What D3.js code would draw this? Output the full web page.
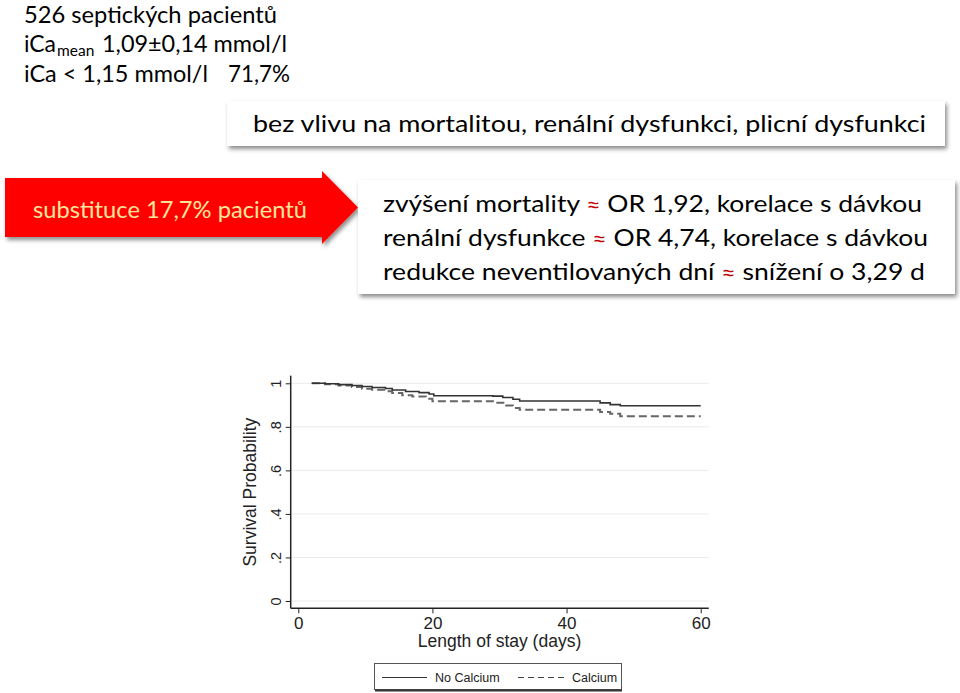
<!DOCTYPE html>
<html>
<head>
<meta charset="utf-8">
<script src="https://cdn.jsdelivr.net/npm/d3@7"></script>
<style>
  body { margin: 0; background: #fff; }
  svg { display: block; }
</style>
</head>
<body>
<div id="canvas"></div>
<script>
// Kaplan-Meier curves
var noCalciumDays = [2, 4, 6, 8, 9.5, 11, 13, 14, 16, 18, 19.5, 20.2, 29, 30.5, 32, 33, 45, 46.5, 48, 60];
var noCalciumSurv = [1, 0.998, 0.994, 0.99, 0.985, 0.981, 0.976, 0.969, 0.962, 0.957, 0.951, 0.943, 0.941, 0.935, 0.927, 0.919, 0.91, 0.902, 0.897, 0.897];
var calciumDays = [2, 4, 6, 8, 9.5, 11, 13, 14, 15.5, 17, 19, 20, 29.5, 31, 32, 33, 45, 46.5, 48, 60];
var calciumSurv = [1, 0.996, 0.99, 0.983, 0.975, 0.97, 0.963, 0.955, 0.945, 0.939, 0.929, 0.918, 0.911, 0.898, 0.886, 0.878, 0.868, 0.86, 0.849, 0.849];

var xTicks = [0, 20, 40, 60];
var yTicks = [0, 0.2, 0.4, 0.6, 0.8, 1];
var yTickLabels = ["0", ".2", ".4", ".6", ".8", "1"];
var legendLabels = ["No Calcium", "Calcium"];

var infoLines = ["526 septických pacientů", "iCa < 1,15 mmol/l", "71,7%"];
var noEffectText = "bez vlivu na mortalitou, renální dysfunkci, plicní dysfunkci";
var arrowText = "substituce 17,7% pacientů";
var effectLines = [
  ["zvýšení mortality ", "OR 1,92, korelace s dávkou"],
  ["renální dysfunkce ", "OR 4,74, korelace s dávkou"],
  ["redukce neventilovaných dní ", "snížení o 3,29 d"]
];

var slideFont = "Lato, 'Open Sans', sans-serif";
var chartFont = "'Liberation Sans', Arial, sans-serif";
var slideSize = 23.5;

var svg = d3.select('#canvas').append("svg").attr("width", 960).attr("height", 693);
svg.append("rect").attr("width", 960).attr("height", 693).attr("fill", "#fff");

var defs = svg.append("defs");
var shadow = defs.append("filter").attr("id", "shadow")
  .attr("x", "-5%").attr("y", "-20%").attr("width", "115%").attr("height", "150%");
shadow.append("feDropShadow").attr("dx", 2).attr("dy", 3).attr("stdDeviation", 2)
  .attr("flood-color", "#000").attr("flood-opacity", 0.45);

// ---- top-left summary
function fitText(sel, width) {
  return sel.attr("textLength", width).attr("lengthAdjust", "spacingAndGlyphs");
}
fitText(svg.append("text").attr("x", 24).attr("y", 22.5).attr("font-family", slideFont)
  .attr("font-size", 22.5).attr("fill", "#000").text(infoLines[0]), 253);

fitText(svg.append("text").attr("x", 24).attr("y", 52).attr("font-family", slideFont)
  .attr("font-size", slideSize).text("iCa"), 32);
svg.append("text").attr("x", 57).attr("y", 56).attr("font-family", slideFont)
  .attr("font-size", 15.5).text("mean");
fitText(svg.append("text").attr("x", 102).attr("y", 52).attr("font-family", slideFont)
  .attr("font-size", slideSize).text("1,09±0,14 mmol/l"), 185);

fitText(svg.append("text").attr("x", 24).attr("y", 82).attr("font-family", slideFont)
  .attr("font-size", slideSize).text(infoLines[1]), 184);
fitText(svg.append("text").attr("x", 228).attr("y", 82).attr("font-family", slideFont)
  .attr("font-size", slideSize).text(infoLines[2]), 62);

// ---- "no effect" box
svg.append("rect").attr("x", 227).attr("y", 101).attr("width", 718).attr("height", 45)
  .attr("fill", "#fff").attr("filter", "url(#shadow)");
fitText(svg.append("text").attr("x", 253).attr("y", 132).attr("font-family", slideFont)
  .attr("font-size", slideSize).text(noEffectText), 673);

// ---- red arrow
var arrowPts = [[5, 178], [322, 178], [322, 171], [358, 207.5], [322, 244], [322, 237], [5, 237]];
svg.append("path").attr("d", d3.line()(arrowPts) + "Z")
  .attr("fill", "#ff0000").attr("filter", "url(#shadow)");
fitText(svg.append("text").attr("x", 33).attr("y", 218).attr("font-family", slideFont)
  .attr("font-size", 22.5).attr("fill", "#ffe699").text(arrowText), 274);

// ---- effects box
svg.append("rect").attr("x", 358).attr("y", 180).attr("width", 597).attr("height", 114)
  .attr("fill", "#fff").attr("filter", "url(#shadow)");
var effectWidths = [539, 545, 542];
effectLines.forEach(function(parts, i) {
  var t = svg.append("text").attr("x", 383).attr("y", 212 + i * 34)
    .attr("font-family", slideFont).attr("font-size", slideSize).attr("fill", "#000");
  t.append("tspan").text(parts[0]);
  t.append("tspan").attr("fill", "#c00000").attr("font-size", 22).text("≈");
  t.append("tspan").text(" " + parts[1]);
  fitText(t, effectWidths[i]);
});

// ---- survival chart
var x = d3.scaleLinear().domain([0, 60]).range([298.3, 700.7]);
var y = d3.scaleLinear().domain([0, 1]).range([601, 383.3]);
var axisX = 290.7, axisY = 608.3;
var ink = "#222";

defs.append("clipPath").attr("id", "chartClip")
  .append("rect").attr("x", 228).attr("y", 365).attr("width", 483).attr("height", 292);
var chart = svg.append("g").attr("clip-path", "url(#chartClip)");

// grid lines
chart.selectAll("line.grid").data(yTicks).enter().append("line")
  .attr("class", "grid")
  .attr("x1", axisX).attr("x2", x(61.2))
  .attr("y1", d => y(d)).attr("y2", d => y(d))
  .attr("stroke", "#ebebeb").attr("stroke-width", 1);

// axes
var yAxis = chart.append("g").attr("transform", "translate(" + axisX + ",0)")
  .call(d3.axisLeft(y).tickValues(yTicks).tickSize(5).tickFormat((d, i) => yTickLabels[i]));
yAxis.select(".domain").remove();
yAxis.selectAll(".tick line").attr("stroke", ink);
yAxis.selectAll(".tick text")
  .attr("transform", "rotate(-90)")
  .attr("x", 0).attr("y", -10).attr("dy", 0)
  .attr("text-anchor", "middle")
  .attr("font-family", chartFont).attr("font-size", 14.5).attr("fill", ink);

var xAxis = chart.append("g").attr("transform", "translate(0," + axisY + ")")
  .call(d3.axisBottom(x).tickValues(xTicks).tickSize(5).tickFormat(d3.format("d")));
xAxis.select(".domain").remove();
xAxis.selectAll(".tick line").attr("stroke", ink);
xAxis.selectAll(".tick text").attr("dy", 0).attr("y", 20.5)
  .attr("font-family", chartFont).attr("font-size", 17).attr("fill", ink);

chart.append("line").attr("x1", axisX).attr("x2", axisX)
  .attr("y1", axisY).attr("y2", y(1.035)).attr("stroke", ink).attr("stroke-width", 1.5);
chart.append("line").attr("x1", axisX).attr("x2", x(61.2))
  .attr("y1", axisY).attr("y2", axisY).attr("stroke", ink).attr("stroke-width", 1.5);

// axis titles
chart.append("text")
  .attr("transform", "translate(255.5," + ((y(0) + y(1)) / 2) + ") rotate(-90)")
  .attr("text-anchor", "middle").attr("font-family", chartFont).attr("font-size", 17.5)
  .attr("fill", ink).text("Survival Probability");
chart.append("text").attr("x", (x(0) + x(60)) / 2).attr("y", 647)
  .attr("text-anchor", "middle").attr("font-family", chartFont).attr("font-size", 17.5)
  .attr("fill", ink).text("Length of stay (days)");

// curves
var km = d3.line().x(d => x(d[0])).y(d => y(d[1])).curve(d3.curveStepAfter);
chart.append("path").datum(d3.zip(calciumDays, calciumSurv))
  .attr("d", km).attr("fill", "none")
  .attr("stroke", "#666").attr("stroke-width", 2).attr("stroke-dasharray", "8,4");
chart.append("path").datum(d3.zip(noCalciumDays, noCalciumSurv))
  .attr("d", km).attr("fill", "none")
  .attr("stroke", "#333").attr("stroke-width", 1.6);

// legend
var legend = svg.append("g");
legend.append("rect").attr("x", 374.5).attr("y", 663.5).attr("width", 247).attr("height", 26)
  .attr("fill", "#fff").attr("stroke", "#555").attr("stroke-width", 1);
legend.append("line").attr("x1", 375).attr("x2", 622).attr("y1", 690.5).attr("y2", 690.5)
  .attr("stroke", "#333").attr("stroke-width", 2);
legend.append("line").attr("x1", 382).attr("x2", 427).attr("y1", 677.5).attr("y2", 677.5)
  .attr("stroke", "#333").attr("stroke-width", 1.2);
legend.append("line").attr("x1", 518).attr("x2", 566).attr("y1", 677.5).attr("y2", 677.5)
  .attr("stroke", "#444").attr("stroke-width", 1.2).attr("stroke-dasharray", "6,4");
legend.selectAll("text.leg").data(legendLabels).enter().append("text")
  .attr("class", "leg")
  .attr("x", (d, i) => i === 0 ? 435 : 572).attr("y", 682)
  .attr("font-family", chartFont).attr("font-size", 12.5).attr("fill", "#222")
  .text(d => d);
</script>
</body>
</html>
